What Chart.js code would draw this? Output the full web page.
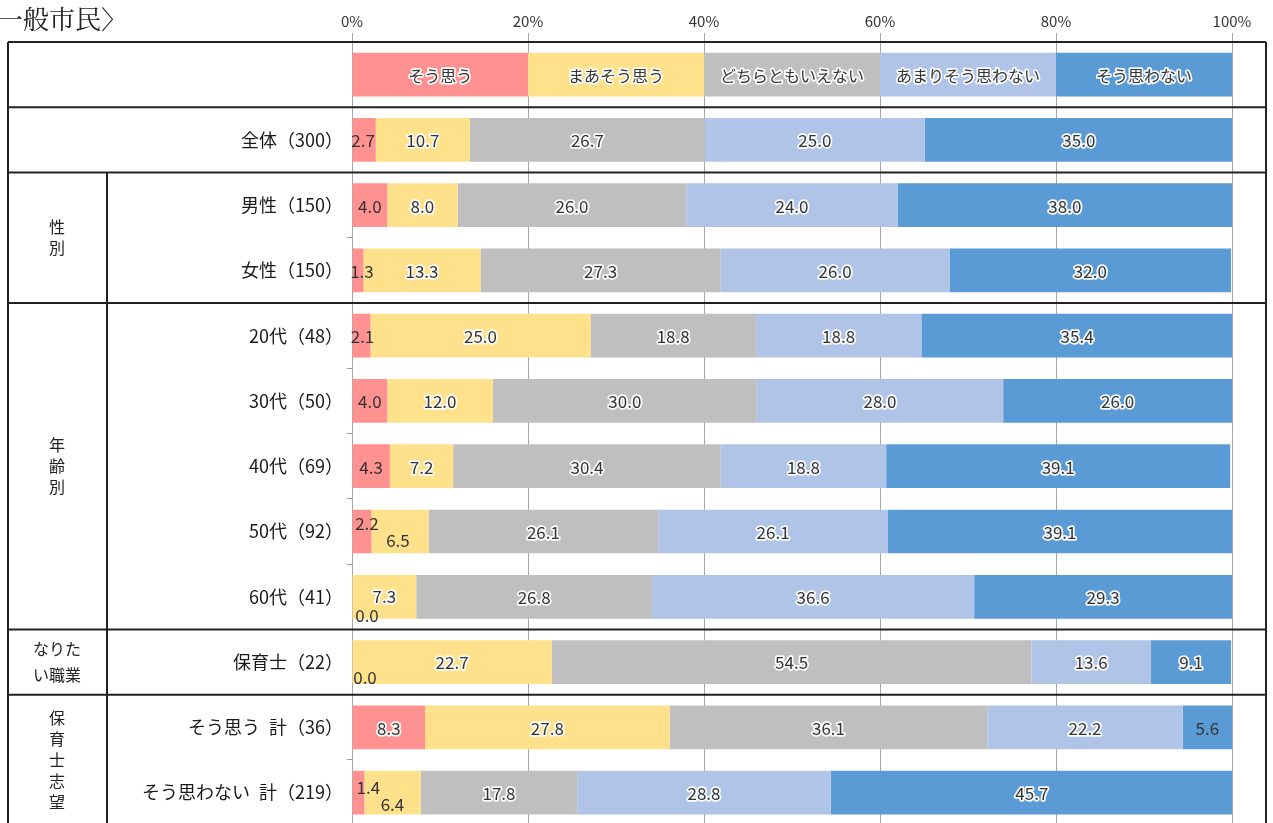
<!DOCTYPE html>
<html><head><meta charset="utf-8">
<script src="https://cdn.jsdelivr.net/npm/chart.js@4/dist/chart.umd.min.js"></script>
<style>html,body{margin:0;padding:0;overflow:hidden;background:#fff}canvas{display:block}</style>
</head><body>
<canvas id="c" width="1273" height="840" style="width:1273px;height:840px"></canvas>
<script>
// ---- data ----
const categories = ['', '全体（300）', '男性（150）', '女性（150）', '20代（48）', '30代（50）', '40代（69）', '50代（92）', '60代（41）', '保育士（22）', 'そう思う\u2002計（36）', 'そう思わない\u2002計（219）'];
const seriesNames = ['そう思う', 'まあそう思う', 'どちらともいえない', 'あまりそう思わない', 'そう思わない'];
const legendRow = [20, 20, 20, 20, 20];
const soOmou     = [2.7, 4.0, 1.3, 2.1, 4.0, 4.3, 2.2, 0.0, 0.0, 8.3, 1.4];
const maaSoOmou  = [10.7, 8.0, 13.3, 25.0, 12.0, 7.2, 6.5, 7.3, 22.7, 27.8, 6.4];
const dochiramo  = [26.7, 26.0, 27.3, 18.8, 30.0, 30.4, 26.1, 26.8, 54.5, 36.1, 17.8];
const amari      = [25.0, 24.0, 26.0, 18.8, 28.0, 18.8, 26.1, 36.6, 13.6, 22.2, 28.8];
const soOmowanai = [35.0, 38.0, 32.0, 35.4, 26.0, 39.1, 39.1, 29.3, 9.1, 5.6, 45.7];
const xTicks = [0, 20, 40, 60, 80, 100];
const groupLabels = [
  { lines: ['性', '別'], from: 2, to: 3, vertical: true },
  { lines: ['年', '齢', '別'], from: 4, to: 8, vertical: true },
  { lines: ['なりた', 'い職業'], from: 9, to: 9, vertical: false },
  { lines: ['保', '育', '士', '志', '望'], from: 10, to: 11, vertical: true }
];
const title = '一般市民〉';

// ---- styles ----
const colors = ['#FF9191', '#FFE18C', '#BFBFBF', '#AFC4E6', '#5B9BD5'];
const FONT = '"Noto Sans CJK JP", "Noto Sans", sans-serif';
// label nudges keyed "category-series": [dx, dy]
const labelNudge = { '1-0': [-1, 0], '3-0': [4, 0], '4-0': [1, 0], '7-0': [5, -9], '7-1': [-2, 8], '8-0': [15, 18], '8-1': [0, -1], '9-0': [13, 15], '11-0': [10, -6], '11-1': [0, 11] };
const separators = [1, 2, 4, 9, 10]; // line above these category indices

const seriesData = [soOmou, maaSoOmou, dochiramo, amari, soOmowanai];
const datasets = seriesNames.map((name, i) => ({
  label: name,
  data: [legendRow[i]].concat(seriesData[i]),
  backgroundColor: colors[i],
  borderWidth: 0,
  barPercentage: 0.67,
  categoryPercentage: 1.0
}));

function haloText(ctx, txt, x, y, halo) {
  if (halo) {
    ctx.lineJoin = 'round';
    ctx.strokeStyle = 'rgba(255,255,255,0.95)';
    ctx.lineWidth = 3.5;
    ctx.strokeText(txt, x, y);
  }
  ctx.fillText(txt, x, y);
}

const labelsPlugin = {
  id: 'segLabels',
  afterDatasetsDraw(chart) {
    const ctx = chart.ctx;
    ctx.save();
    ctx.textBaseline = 'middle';
    ctx.textAlign = 'center';
    ctx.fillStyle = '#333';
    chart.data.datasets.forEach((ds, di) => {
      const meta = chart.getDatasetMeta(di);
      meta.data.forEach((bar, ci) => {
        const cx = (bar.x + bar.base) / 2;
        const cy = bar.y;
        if (ci === 0) {
          ctx.font = '16px ' + FONT;
          haloText(ctx, ds.label, cx, cy + 1, true);
          return;
        }
        const v = ds.data[ci];
        const n = labelNudge[ci + '-' + di] || [0, 0];
        ctx.font = '17px ' + FONT;
        const w = Math.abs(bar.x - bar.base);
        haloText(ctx, v.toFixed(1), cx + n[0], cy + n[1] + 1, w > 60);
      });
    });
    ctx.restore();
  }
};

const tablePlugin = {
  id: 'table',
  afterDraw(chart) {
    const ctx = chart.ctx;
    const y = chart.scales.y;
    const L = 8, R = 1266, TOP = chart.chartArea.top, BOT = chart.height;
    const mid = i => (y.getPixelForValue(i - 1) + y.getPixelForValue(i)) / 2;
    ctx.save();
    ctx.strokeStyle = '#222';
    ctx.lineWidth = 2;
    ctx.beginPath();
    ctx.moveTo(L, TOP); ctx.lineTo(R, TOP);
    ctx.moveTo(L, TOP); ctx.lineTo(L, BOT);
    ctx.moveTo(R, TOP); ctx.lineTo(R, BOT);
    separators.forEach(i => { const yy = mid(i); ctx.moveTo(L, yy); ctx.lineTo(R, yy); });
    const innerTop = mid(2);
    ctx.moveTo(107, innerTop); ctx.lineTo(107, BOT);
    ctx.stroke();

    // group labels
    ctx.fillStyle = '#222';
    ctx.textAlign = 'center';
    ctx.textBaseline = 'middle';
    ctx.font = '16px ' + FONT;
    groupLabels.forEach(g => {
      const cy = (y.getPixelForValue(g.from) + y.getPixelForValue(g.to)) / 2;
      const step = g.vertical ? 21 : 26;
      const n = g.lines.length;
      g.lines.forEach((t, k) => {
        ctx.fillText(t, 57, cy + (k - (n - 1) / 2) * step);
      });
    });

    // title
    ctx.textAlign = 'left';
    ctx.textBaseline = 'alphabetic';
    ctx.font = '26px "Noto Serif CJK JP", ' + FONT;
    ctx.fillStyle = '#222';
    ctx.fillText(title, -3, 29);
    ctx.restore();
  }
};

new Chart(document.getElementById('c'), {
  type: 'bar',
  data: { labels: categories, datasets },
  options: {
    indexAxis: 'y',
    responsive: false,
    devicePixelRatio: 1,
    animation: false,
    layout: { padding: { left: 0, right: 41, top: 0, bottom: 11 } },
    plugins: { legend: { display: false }, tooltip: { enabled: false } },
    scales: {
      x: {
        position: 'top',
        stacked: true,
        min: 0, max: 100,
        afterFit: a => { a.height = 42; },
        afterBuildTicks: a => { a.ticks = xTicks.map(v => ({ value: v })); },
        grid: { color: '#A6A6A6', lineWidth: 1, tickLength: 9, tickColor: '#A6A6A6' },
        border: { display: false },
        ticks: { callback: v => v + '%', font: { size: 15, family: FONT }, color: '#333', padding: 3, maxRotation: 0 }
      },
      y: {
        stacked: true,
        afterFit: a => { a.width = 352; },
        grid: { offset: true, drawOnChartArea: false, tickLength: 5, color: '#999' },
        border: { display: false },
        ticks: { font: { size: 18, family: FONT }, color: '#1a1a1a', padding: 4, autoSkip: false }
      }
    }
  },
  plugins: [labelsPlugin, tablePlugin]
});
</script>
</body></html>
